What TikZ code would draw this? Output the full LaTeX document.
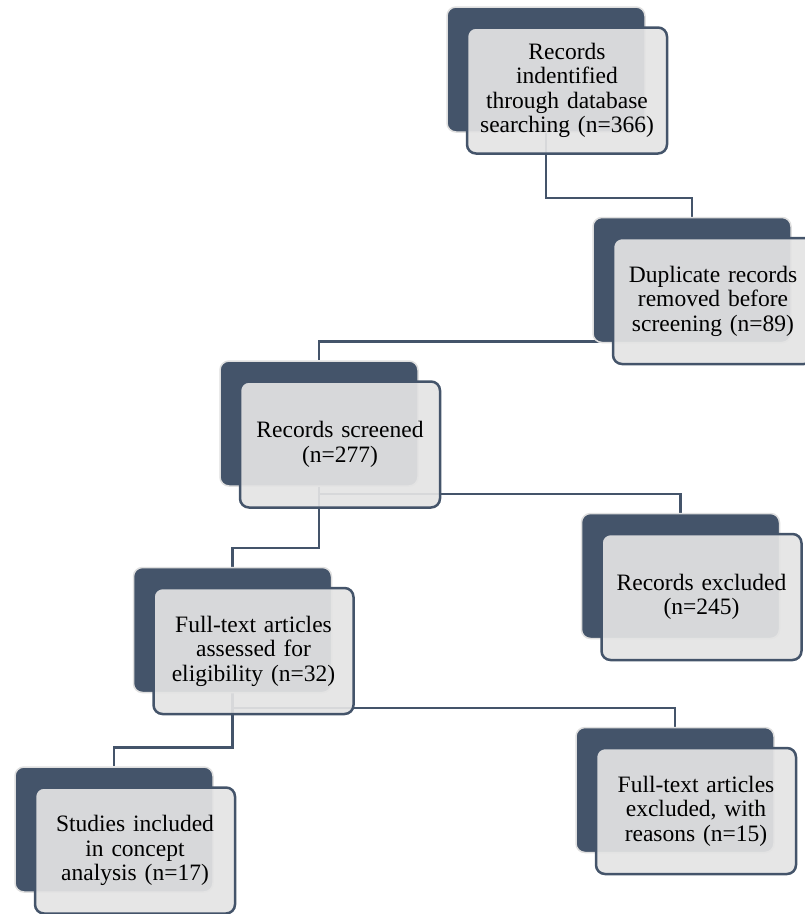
\documentclass[tikz,border=0pt]{standalone}
\usepackage{fontspec}
\setmainfont{Liberation Serif}
\usepackage{xcolor}
\usepackage{tikz}
\usetikzlibrary{calc, positioning, backgrounds}
\definecolor{slate}{HTML}{44546A}
\definecolor{boxfill}{HTML}{E4E4E4}

\begin{document}
\begin{tikzpicture}[x=1pt, y=-1pt,
    backbox/.style={draw=gray!25, line width=1.5pt, fill=slate, rounded corners=9pt,
        minimum width=198pt, minimum height=125pt, inner sep=0pt},
    frontbox/.style={draw=slate, line width=2.5pt, fill=boxfill, fill opacity=0.92,
        text opacity=1, rounded corners=9pt, minimum width=200pt, minimum height=126pt,
        inner sep=0pt, text width=192pt, align=center,
        font=\fontsize{23.5}{24.5}\selectfont},
    conn/.style={draw=slate, line width=2.5pt}]
    \useasboundingbox (0,0) rectangle (805,914);
    \clip (0,0) rectangle (805,914);
    \node[backbox] (identbg) at (546,69.5) {};
    \node[frontbox] (ident) at ($(identbg)+(21,21)$) {Records\\ indentified\\ through database\\ searching (n=366)};
    \node[backbox] (duplbg) at (692,280) {};
    \node[frontbox] (dupl) at ($(duplbg)+(21,21)$) {Duplicate records\\ removed before\\ screening (n=89)};
    \node[backbox] (screenbg) at (319,423.5) {};
    \node[frontbox] (screen) at ($(screenbg)+(21,21)$) {Records screened\\ (n=277)};
    \node[backbox] (exclbg) at (680.5,576) {};
    \node[frontbox] (excl) at ($(exclbg)+(21,21)$) {Records excluded\\ (n=245)};
    \node[backbox] (fulltextbg) at (232.5,630) {};
    \node[frontbox] (fulltext) at ($(fulltextbg)+(21,21)$) {Full-text articles\\ assessed for\\ eligibility (n=32)};
    \node[backbox] (ftexclbg) at (675,790) {};
    \node[frontbox] (ftexcl) at ($(ftexclbg)+(21,21)$) {Full-text articles\\ excluded, with\\ reasons (n=15)};
    \node[backbox] (inclbg) at (114,829.5) {};
    \node[frontbox] (incl) at ($(inclbg)+(21,21)$) {Studies included\\ in concept\\ analysis (n=17)};
    % connectors behind the boxes
    \begin{scope}[on background layer]
        \draw[conn] (identbg.center) |- ($(duplbg.north)+(0,-19)$) -- (duplbg.north);
        \draw[conn] (duplbg.center) |- ($(screenbg.north)+(0,-19)$) -- (screenbg.north);
        \draw[conn] (screenbg.center) |- ($(exclbg.north)+(0,-19)$) -- (exclbg.north);
        \draw[conn] (screenbg.center) |- ($(fulltextbg.north)+(0,-19)$) -- (fulltextbg.north);
        \draw[conn] (fulltextbg.center) |- ($(ftexclbg.north)+(0,-19)$) -- (ftexclbg.north);
        \draw[conn] (fulltextbg.center) |- ($(inclbg.north)+(0,-19)$) -- (inclbg.north);
    \end{scope}
\end{tikzpicture}
\end{document}
